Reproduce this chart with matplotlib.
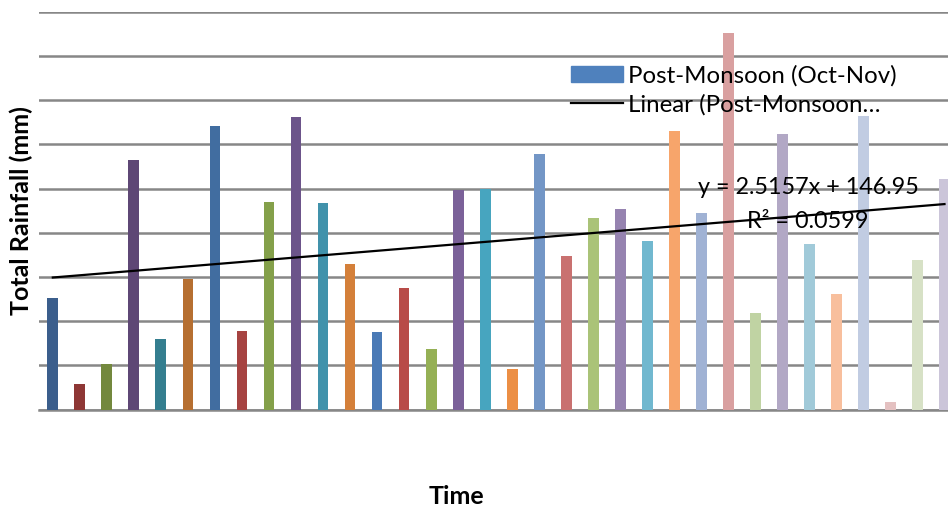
import numpy as np
import matplotlib
matplotlib.use("Agg")
import matplotlib.pyplot as plt
from matplotlib.patches import Patch
from matplotlib.lines import Line2D

# ---------------- data ----------------
years = np.arange(1, 35)  # time index of each post-monsoon season
rainfall = [126, 29, 52, 282, 80, 148, 321, 89, 235, 331,
            234, 165, 88, 138, 69, 248, 250, 46, 289, 174,
            217, 227, 191, 315, 222, 426, 109, 312, 187, 131,
            332, 9, 169, 261]
bar_colors = ['#3B5E8C', '#8E3735', '#73883D', '#5E4775', '#347E8F', '#B66F31',
              '#416DA0', '#A64341', '#84A04A', '#6C548A', '#4192AB', '#D4803A',
              '#4A7AB6', '#B84B48', '#95B055', '#7B6199', '#47A5BF', '#EC8F45',
              '#7396C6', '#C97170', '#AAC378', '#9683B0', '#71B8CF', '#F7A56B',
              '#A0B2D4', '#D9A0A0', '#C0D3A3', '#B2A8C5', '#A1CAD9', '#F8BF9D',
              '#C1CCE2', '#E4C1C1', '#D7E1C6', '#CBC5D9']
slope, intercept = 2.5157, 146.95  # Excel linear trendline
r2 = 0.0599

series_name = 'Post-Monsoon (Oct-Nov)'
trend_name = 'Linear (Post-Monsoon\u2026'

# ---------------- plot ----------------
plt.rcParams['font.family'] = ['Lato', 'DejaVu Sans']

fig = plt.figure(figsize=(9.48, 5.12), dpi=100)
ax = fig.add_axes([39.3 / 948, 1 - 409.7 / 512, (958 - 39.3) / 948, (409.7 - 11.7) / 512])

ax.bar(years, rainfall, width=0.4, color=bar_colors, zorder=2)

trend_x = np.array([years[0], years[-1]])
ax.plot(trend_x, slope * trend_x + intercept, color='black', lw=1.6, zorder=3)

ax.set_xlim(0.5, 34.5)
ax.set_ylim(0, 450)
ax.set_yticks(np.arange(0, 451, 50))
ax.set_xticks([])
ax.tick_params(axis='y', length=0, labelleft=False)
ax.grid(axis='y', color='#878787', lw=1.8, zorder=0)
for s in ['top', 'right', 'left']:
    ax.spines[s].set_visible(False)
ax.spines['bottom'].set_color('#878787')
ax.spines['bottom'].set_linewidth(1.8)
ax.spines['bottom'].set_zorder(1)

fig.text(21 / 948, 1 - 211 / 512, 'Total Rainfall (mm)', rotation=90, ha='center', va='center',
         fontsize=18, fontweight='bold')
fig.text(456 / 948, 1 - 496 / 512, 'Time', ha='center', va='center', fontsize=18, fontweight='bold')

handles = [Patch(color='#4F81BD'), Line2D([], [], color='black', lw=1.6)]
leg = fig.legend(handles, [series_name, trend_name], loc='upper left',
                 bbox_to_anchor=(571 / 948, 1 - 65 / 512), frameon=False,
                 fontsize=17.3, handlelength=2.15, handletextpad=0.22, handleheight=0.6,
                 labelspacing=0.3, borderpad=0, borderaxespad=0)
leg.set_zorder(5)

fig.text(808 / 948, 1 - 188 / 512, 'y = %.4fx + %.2f' % (slope, intercept), ha='center', va='center',
         fontsize=16.8, zorder=5)
fig.text(808 / 948, 1 - 222 / 512, 'R\u00b2 = %.4f' % r2, ha='center', va='center', fontsize=16.8, zorder=5)

plt.savefig('out.png', dpi=100)
